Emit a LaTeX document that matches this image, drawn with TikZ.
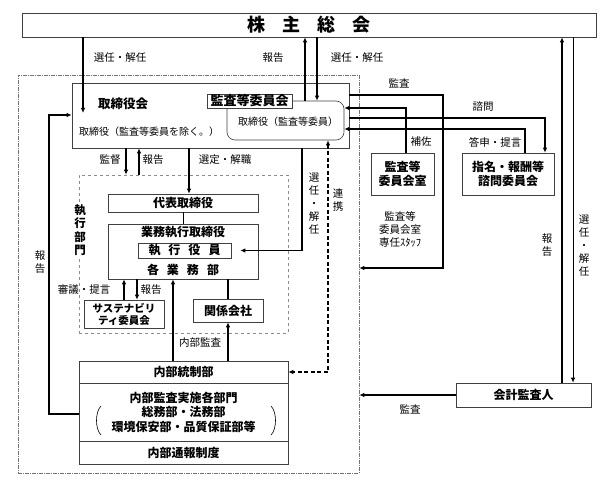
\documentclass[tikz,border=0pt]{standalone}
\usepackage{fontspec}
\setmainfont{Noto Sans CJK JP}
\usetikzlibrary{arrows.meta}

\tikzset{
  box/.style={draw=black!75, line width=0.6pt, fill=white, inner sep=0pt, align=center,
    font=\bfseries\fontsize{12}{14}\selectfont},
  lbl/.style={inner sep=0pt, align=center, font=\fontsize{10.5}{13}\selectfont},
  conn/.style={line width=1.2pt, -{Latex[length=5pt,width=4.5pt]}},
  link/.style={line width=1.2pt},
  renkei/.style={line width=1.1pt, dash pattern=on 4pt off 2.5pt,
    {Latex[length=5pt,width=4.5pt]}-{Latex[length=5pt,width=4.5pt]}},
}

\begin{document}
\begin{tikzpicture}[x=1pt,y=-1pt]
\useasboundingbox (0,0) rectangle (600,484);

% frames
\node[draw=black!55, line width=0.5pt, dash pattern=on 4pt off 1pt on 1pt off 1pt,
  minimum width=341, minimum height=398] (kaisha) at (188.5,274) {};
\node[draw=black!45, line width=0.6pt, dashed, minimum width=209, minimum height=158] (shikko) at (183.5,254) {};
\node[lbl, fill=white, inner sep=1pt, font=\bfseries\fontsize{11.5}{13.5}\selectfont] (bumon) at (80,230) {執\\行\\部\\門};

% boxes
\node[box, minimum width=574, minimum height=24, font=\bfseries\fontsize{18}{20}\selectfont] (soukai) at (309,25)
  {株\hspace{17pt}主\hspace{17pt}総\hspace{17pt}会};
\node[box, minimum width=277, minimum height=65] (torikai) at (210.5,115.5) {};
\node[lbl, font=\bfseries\fontsize{12.5}{14}\selectfont] (torikaimei) at (123,104) {取締役会};
\node[lbl, font=\fontsize{10}{12}\selectfont] (torishita) at (149,132) {取締役（監査等委員を除く。）};
\node[draw=black!75, line width=0.6pt, rounded corners=8pt, minimum width=117, minimum height=39] (iin) at (285.5,120.5) {};
\node[lbl, font=\fontsize{10}{12}\selectfont] (iinmei) at (288,122) {取締役（監査等委員）};
\node[box, minimum width=85, minimum height=14, font=\bfseries\fontsize{13}{14}\selectfont] (kansa) at (249.5,101) {監査等委員会};

\node[box, minimum width=63, minimum height=42] (shitsu) at (402.5,174) {監査等\\委員会室};
\node[box, minimum width=92, minimum height=42] (shimei) at (508,174) {指名・報酬等\\諮問委員会};
\node[box, minimum width=135, minimum height=24] (kaikei) at (523.5,395) {会計監査人};

\node[box, minimum width=150, minimum height=18] (daihyo) at (183,203) {代表取締役};
\node[box, minimum width=150, minimum height=55] (gyomu) at (183,251.5) {};
\node[lbl, font=\bfseries\fontsize{12}{14}\selectfont] (gyomumei) at (183,232) {業務執行取締役};
\node[box, minimum width=93, minimum height=15] (yakuin) at (184.5,250.5) {執\hspace{8pt}行\hspace{8pt}役\hspace{8pt}員};
\node[lbl, font=\bfseries\fontsize{12}{14}\selectfont] (kakubu) at (183,270) {各\hspace{8pt}業\hspace{8pt}務\hspace{8pt}部};
\node[box, minimum width=80, minimum height=28, font=\bfseries\fontsize{10.5}{12}\selectfont] (sustain) at (124,314) {サステナビリ\\ティ委員会};
\node[box, minimum width=70, minimum height=23] (kankei) at (228,310.5) {関係会社};

\node[box, minimum width=209, minimum height=22] (naibu) at (183.5,372) {内部統制部};
\node[box, minimum width=209, minimum height=58, font=\bfseries\fontsize{12}{14.5}\selectfont] (jisshi) at (183.5,412)
  {内部監査実施各部門\\総務部・法務部\\環境保安部・品質保証部等};
\node[box, minimum width=209, minimum height=23] (tsuho) at (183.5,452.5) {内部通報制度};
\draw[line width=0.6pt] (101,406) .. controls (95,412) and (95,429) .. (101,435);
\draw[line width=0.6pt] (271,406) .. controls (277,412) and (277,429) .. (271,435);

% connectors
\draw[conn] (83,0 |- soukai.south) -- (83,113);
\draw[conn] (305,0 |- iin.north) -- (305,0 |- soukai.south);
\draw[conn] (317,0 |- soukai.south) -- (317,0 |- iin.north);
\draw[conn] (torikai.east |- 0,95) -| (443,268) -- (kaisha.east |- 0,268);
\draw[conn] (shitsu.north -| 406,0) |- (iin.east |- 0,108);
\draw[conn] (torikai.east |- 0,118) -| (545,0 |- shimei.north);
\draw[conn] (shimei.north -| 525,0) |- (iin.east |- 0,129);
\draw[conn, line width=1.4pt] (kaikei.north -| 562,0) -- (562,0 |- soukai.south);
\draw[conn, line width=0.9pt] (573,0 |- soukai.south) -- (kaikei.north -| 573,0);
\draw[conn] (kaikei.west) -- (kaisha.east |- kaikei.west);

\draw[conn] (126,0 |- torikai.south) -- (126,0 |- shikko.north);
\draw[conn] (139,0 |- shikko.north) -- (139,0 |- torikai.south);
\draw[conn] (189,0 |- torikai.south) -- (189,0 |- daihyo.north);
\draw[conn] (302,0 |- torikai.south) |- ([xshift=9pt]yakuin.east);
\draw[renkei] (328,0 |- iin.south) |- (naibu.east);
\draw[line width=0.6pt] (daihyo) -- (gyomu);
\draw[conn] (124,0 |- sustain.north) -- (124,0 |- gyomu.south);
\draw[conn] (137,0 |- gyomu.south) -- (137,0 |- sustain.north);
\draw[link] (gyomu.south -| kankei.north) -- (kankei.north);
\draw[conn] (173,0 |- naibu.north) -- (173,0 |- gyomu.south);
\draw[conn] (kankei.south |- naibu.north) -- (kankei.south);
\draw[conn] (jisshi.west |- 0,414) -| (49,115) -- (torikai.west |- 0,115);

% labels
\node[lbl] (l1) at (120,58) {選任・解任};
\node[lbl] (l2) at (273,58) {報告};
\node[lbl] (l3) at (357,58) {選任・解任};
\node[lbl] (l4) at (399,83) {監査};
\node[lbl] (l5) at (483,107) {諮問};
\node[lbl] (l6) at (421,142) {補佐};
\node[lbl] (l7) at (495,142) {答申・提言};
\node[lbl] (l8) at (400,229) {監査等\\委員会室\\専任ｽﾀｯﾌ};
\node[lbl] (l9) at (110,160) {監督};
\node[lbl] (l10) at (153,160) {報告};
\node[lbl] (l11) at (225,160) {選定・解職};
\node[lbl] (l12) at (314,204) {選\\任\\・\\解\\任};
\node[lbl] (l13) at (338,200) {連\\携};
\node[lbl] (l14) at (84,290) {審議・提言};
\node[lbl] (l15) at (151,290) {報告};
\node[lbl] (l16) at (200,343) {内部監査};
\node[lbl] (l17) at (40,262) {報\\告};
\node[lbl] (l18) at (547,245) {報\\告};
\node[lbl] (l19) at (584,246) {選\\任\\・\\解\\任};
\node[lbl] (l20) at (410,409) {監査};
\end{tikzpicture}
\end{document}
